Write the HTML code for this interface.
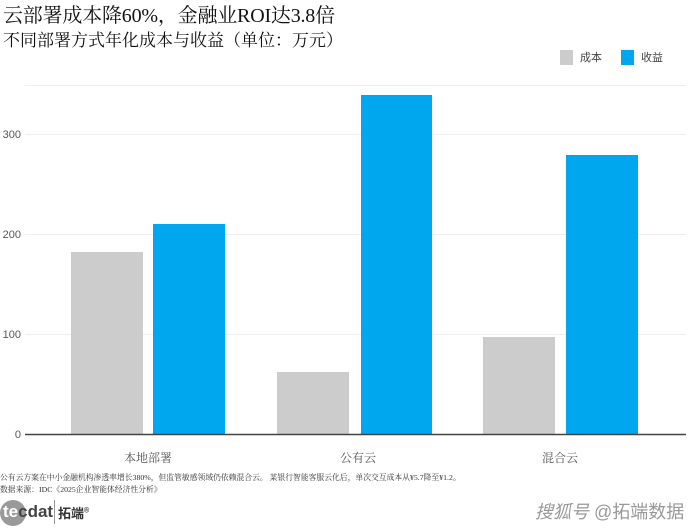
<!DOCTYPE html>
<html><head><meta charset="utf-8"><style>
body{margin:0;width:690px;height:530px;background:#fff;position:relative;overflow:hidden;font-family:"Liberation Sans","Noto Sans CJK SC",sans-serif}
.a{position:absolute;white-space:nowrap}
.s{font-family:"Liberation Serif","Noto Serif CJK SC",serif}
</style></head><body>
<div class="a s" style="left:3px;top:-1px;font-size:20px;color:#111;letter-spacing:-0.2px">云部署成本降60%，金融业ROI达3.8倍</div>
<div class="a s" style="left:3px;top:26px;font-size:17px;color:#111">不同部署方式年化成本与收益（单位：万元）</div>
<div class="a" style="left:560px;top:50px;width:13px;height:15px;background:#cccccc"></div>
<div class="a" style="left:580px;top:49px;font-size:11px;color:#444">成本</div>
<div class="a" style="left:621px;top:50px;width:13px;height:15px;background:#00a6ee"></div>
<div class="a" style="left:641px;top:49px;font-size:11px;color:#444">收益</div>
<svg class="a" style="left:0;top:0" width="690" height="530">
<g stroke="#eeeeee" stroke-width="1">
<line x1="25" x2="686" y1="85.5" y2="85.5"/><line x1="25" x2="686" y1="134.5" y2="134.5"/>
<line x1="25" x2="686" y1="234.5" y2="234.5"/><line x1="25" x2="686" y1="334.5" y2="334.5"/>
</g>
<g font-size="11" fill="#555" text-anchor="end" font-family="Liberation Sans,sans-serif">
<text x="21" y="138">300</text><text x="21" y="238">200</text><text x="21" y="338">100</text><text x="21" y="438">0</text>
</g>
<g fill="#cccccc"><rect x="71" y="252" width="72" height="182"/><rect x="277" y="372" width="72" height="62"/><rect x="483" y="337" width="72" height="97"/></g>
<g fill="#00a6ee"><rect x="153" y="224" width="72" height="210"/><rect x="361" y="95" width="71" height="339"/><rect x="566" y="155" width="72" height="279"/></g>
<line x1="25" x2="686" y1="434.5" y2="434.5" stroke="#444" stroke-width="1.5"/>
<g font-size="12" fill="#555" text-anchor="middle" font-family="Liberation Serif,Noto Serif CJK SC,serif">
<text x="148" y="462">本地部署</text><text x="358" y="462">公有云</text><text x="560" y="462">混合云</text>
</g>
</svg>
<div class="a s" style="left:0;top:472px;font-size:7.8px;color:#333">公有云方案在中小金融机构渗透率增长380%，但监管敏感领域仍依赖混合云。 某银行智能客服云化后，单次交互成本从¥5.7降至¥1.2。</div>
<div class="a s" style="left:0;top:484px;font-size:7.8px;color:#333">数据来源：IDC《2025企业智能体经济性分析》</div>
<div class="a" style="left:0;top:500px;width:26px;height:26px;border-radius:50%;background:#9a9a9a"></div>
<div class="a" style="left:3px;top:502px;font-size:17px;color:#fff;font-weight:bold">te<span style="color:#444">cdat</span></div>
<div class="a" style="left:54px;top:500px;width:1px;height:24px;background:#999"></div>
<div class="a" style="left:58px;top:503px;font-size:13px;font-weight:bold;color:#333">拓端<sup style="font-size:7px">®</sup></div>
<div class="a" style="left:535px;top:498px;font-size:18px;color:#999;font-style:italic">搜狐号 <span style="font-style:normal">@拓端数据</span></div>
</body></html>
